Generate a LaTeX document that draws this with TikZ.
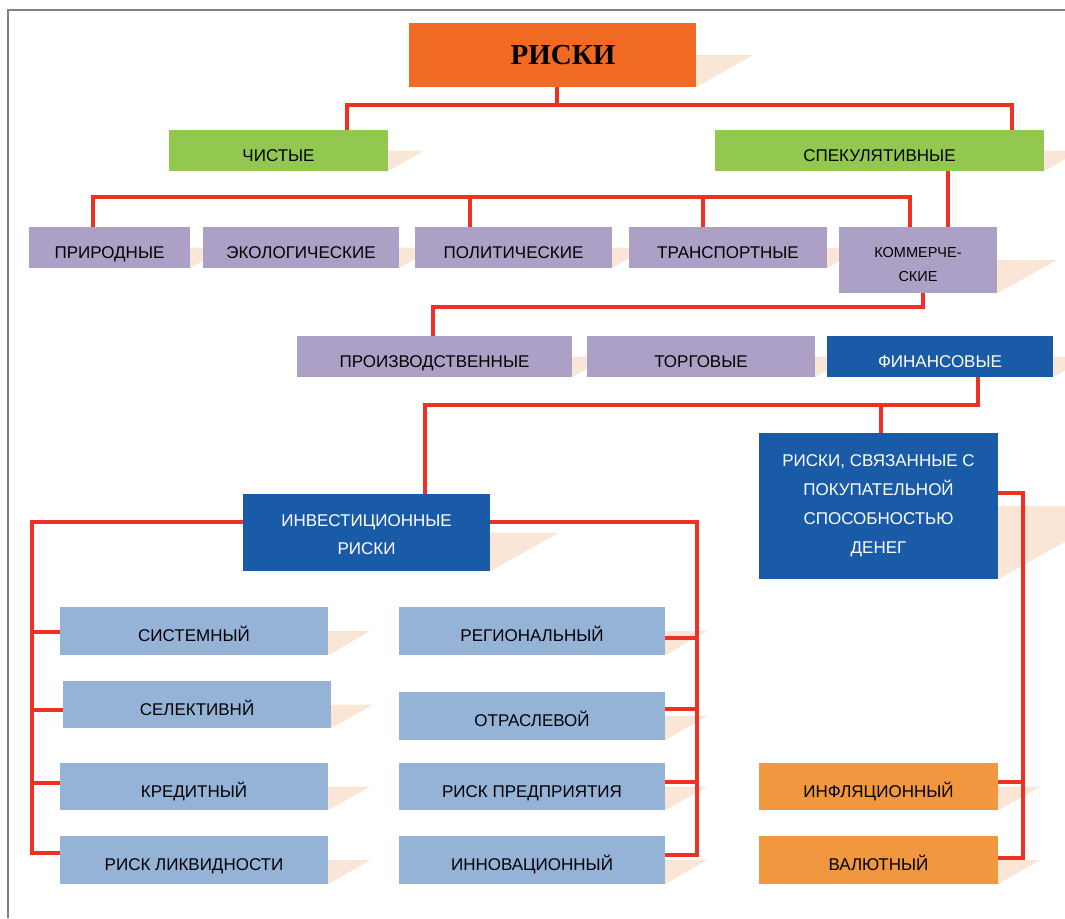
\documentclass[tikz,border=0pt]{standalone}
\usepackage{fontspec}
\setmainfont{Liberation Sans}
\newfontfamily\titlefont{Liberation Serif}
\usepackage{xcolor}
\usepackage{tikz}
\usetikzlibrary{backgrounds}

\definecolor{topor}{RGB}{241,106,36}
\definecolor{leafgreen}{RGB}{146,200,80}
\definecolor{lilac}{RGB}{173,160,198}
\definecolor{deepblue}{RGB}{26,91,168}
\definecolor{paleblue}{RGB}{149,179,215}
\definecolor{softor}{RGB}{240,151,63}
\definecolor{shadowtint}{RGB}{250,230,214}
\definecolor{linkred}{RGB}{238,49,36}

\begin{document}
\begin{tikzpicture}[x=1pt,y=-1pt]
\tikzstyle{box}=[rectangle,inner sep=0pt,align=center,text height=21pt,text depth=0pt,font=\fontsize{17}{28}\selectfont]
\tikzstyle{multi}=[text height=,text depth=]
\tikzstyle{link}=[draw=linkred,line width=4.5pt]
\tikzstyle{shade}=[fill=shadowtint]

\useasboundingbox (0,0) rectangle (1065,918);

% Top
\node[box,multi,fill=topor,minimum width=287pt,minimum height=64pt,font=\titlefont\bfseries\fontsize{29}{30}\selectfont] (riski) at (552.5,55) {\hspace*{21pt}РИСКИ};
% Level 1
\node[box,fill=leafgreen,minimum width=219pt,minimum height=41pt] (chist) at (278.5,150.5) {ЧИСТЫЕ};
\node[box,fill=leafgreen,minimum width=329pt,minimum height=41pt] (spek) at (879.5,150.5) {СПЕКУЛЯТИВНЫЕ};
% Level 2
\node[box,fill=lilac,minimum width=161pt,minimum height=41pt] (prir) at (109.5,247.5) {ПРИРОДНЫЕ};
\node[box,fill=lilac,minimum width=196pt,minimum height=41pt] (ekol) at (301,247.5) {ЭКОЛОГИЧЕСКИЕ};
\node[box,fill=lilac,minimum width=197pt,minimum height=41pt] (polit) at (513.5,247.5) {ПОЛИТИЧЕСКИЕ};
\node[box,fill=lilac,minimum width=198pt,minimum height=41pt] (trans) at (728,247.5) {ТРАНСПОРТНЫЕ};
\node[box,multi,fill=lilac,minimum width=158pt,minimum height=66pt,font=\fontsize{14.5}{24}\selectfont] (komm) at (918,260) {\rule{0pt}{20pt}КОММЕРЧЕ-\\СКИЕ};
% Level 3
\node[box,fill=lilac,minimum width=275pt,minimum height=41pt] (proizv) at (434.5,356.5) {ПРОИЗВОДСТВЕННЫЕ};
\node[box,fill=lilac,minimum width=228pt,minimum height=41pt] (torg) at (701,356.5) {ТОРГОВЫЕ};
\node[box,fill=deepblue,text=white,minimum width=226pt,minimum height=41pt] (fin) at (940,356.5) {ФИНАНСОВЫЕ};
% Level 4
\node[box,multi,fill=deepblue,text=white,minimum width=247pt,minimum height=77pt] (invest) at (366.5,532.5) {\rule{0pt}{17pt}ИНВЕСТИЦИОННЫЕ\\РИСКИ};
\node[box,multi,fill=deepblue,text=white,minimum width=239pt,minimum height=146pt,font=\fontsize{17}{29}\selectfont] (pokup) at (878.5,506) {РИСКИ, СВЯЗАННЫЕ С\\ПОКУПАТЕЛЬНОЙ\\СПОСОБНОСТЬЮ\\ДЕНЕГ};
% Investment risks, left
\node[box,fill=paleblue,minimum width=268pt,minimum height=48pt] (sist) at (194,631) {СИСТЕМНЫЙ};
\node[box,fill=paleblue,minimum width=268pt,minimum height=47pt] (selekt) at (197,704.5) {СЕЛЕКТИВНЙ};
\node[box,fill=paleblue,minimum width=268pt,minimum height=47pt] (kredit) at (194,786.5) {КРЕДИТНЫЙ};
\node[box,fill=paleblue,minimum width=268pt,minimum height=48pt] (likv) at (194,860) {РИСК ЛИКВИДНОСТИ};
% Investment risks, right
\node[box,fill=paleblue,minimum width=266pt,minimum height=48pt] (region) at (532,631) {РЕГИОНАЛЬНЫЙ};
\node[box,fill=paleblue,minimum width=266pt,minimum height=48pt] (otrasl) at (532,716) {ОТРАСЛЕВОЙ};
\node[box,fill=paleblue,minimum width=266pt,minimum height=47pt] (predpr) at (532,786.5) {РИСК ПРЕДПРИЯТИЯ};
\node[box,fill=paleblue,minimum width=266pt,minimum height=48pt] (innov) at (532,860) {ИННОВАЦИОННЫЙ};
% Purchasing power
\node[box,fill=softor,minimum width=239pt,minimum height=47pt] (infl) at (878.5,786.5) {ИНФЛЯЦИОННЫЙ};
\node[box,fill=softor,minimum width=239pt,minimum height=48pt] (valyut) at (878.5,860) {ВАЛЮТНЫЙ};

% Shadows and frame
\begin{scope}[on background layer]
\draw[gray,line width=1.2pt] (8,918) |- (1065,10);
\foreach \n/\e in {riski/57,chist/36,spek/36,prir/36,ekol/36,polit/36,trans/36,komm/60,
  proizv/36,torg/36,fin/36,invest/69,pokup/130,sist/42,selekt/42,kredit/42,likv/42,
  region/42,otrasl/42,predpr/42,innov/42,infl/42,valyut/42}
  \fill[shade] (\n.east) -- ++(\e,0) -- (\n.south east) -- cycle;
\end{scope}

% Connectors
\coordinate (top) at (557,105);
\coordinate (lbar) at (32,522);
\coordinate (rbar) at (697,522);
\coordinate (pbar) at (1023,493);

\draw[link] (riski.south -| top) -- (top);
\draw[link] ([xshift=68.5pt]chist.north) |- (top) -| ([xshift=132.5pt]spek.north);
\draw[link] ([xshift=68.5pt]spek.south) -- ([xshift=68.5pt]komm.north -| spek.south);
\draw[link] ([xshift=-16.5pt]prir.north) -- ++(0,-30) -| ([xshift=-8pt]komm.north);
\draw[link] ([xshift=-43.5pt]polit.north) -- ++(0,-30);
\draw[link] ([xshift=-25pt]trans.north) -- ++(0,-30);
\draw[link] ([xshift=5pt]komm.south) -- ++(0,14) -| ([xshift=-1.5pt]proizv.north);
\draw[link] ([xshift=38pt]fin.south) -- ++(0,28) -| ([xshift=58.5pt]invest.north);
\draw[link] ([xshift=2.5pt]pokup.north) -- ++(0,-28);

\draw[link] ([yshift=10.5pt]invest.west) -- (lbar) |- ([yshift=7pt]likv.west);
\foreach \n/\d in {sist/-1,selekt/-5.5,kredit/3.5}
  \draw[link] ([yshift=\d pt]\n.west) -- ([yshift=\d pt]\n.west -| lbar);

\draw[link] ([yshift=10.5pt]invest.east) -- (rbar) |- ([yshift=5pt]innov.east);
\foreach \n/\d in {region/-7,otrasl/7,predpr/4.5}
  \draw[link] ([yshift=\d pt]\n.east) -- ([yshift=\d pt]\n.east -| rbar);

\draw[link] ([yshift=13pt]pokup.east) -- (pbar) |- ([yshift=2pt]valyut.east);
\draw[link] ([yshift=4.5pt]infl.east) -- ([yshift=4.5pt]infl.east -| pbar);

\end{tikzpicture}
\end{document}
